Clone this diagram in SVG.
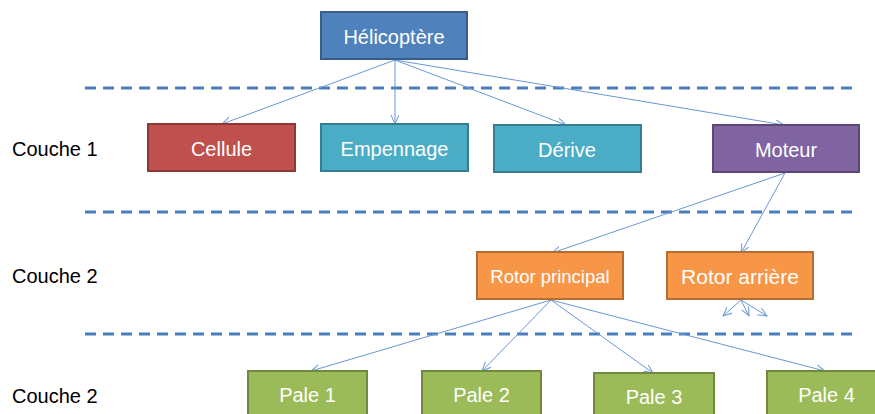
<svg xmlns="http://www.w3.org/2000/svg" width="875" height="414" viewBox="0 0 875 414">
<style>
.box{stroke-width:2}
.t{font-family:"Liberation Sans",Arial,sans-serif;font-size:20px;fill:#fff;text-anchor:middle}
.lbl{font-family:"Liberation Sans",Arial,sans-serif;font-size:20px;fill:#000}
.blue{fill:#4F81BD;stroke:#385D8A}
.red{fill:#C0504D;stroke:#8C3836}
.aqua{fill:#4BACC6;stroke:#357D91}
.purple{fill:#8064A2;stroke:#5C4776}
.orange{fill:#F79646;stroke:#B66D31}
.green{fill:#9BBB59;stroke:#71893F}
.dash{stroke:#4A7EBB;stroke-width:3;stroke-dasharray:11 7;fill:none}
.c line{stroke:#6A97D6;stroke-width:1;marker-end:url(#ah)}
</style>
<defs>
<marker id="ah" markerUnits="userSpaceOnUse" markerWidth="12" markerHeight="12" refX="9" refY="4" orient="auto">
<path d="M0,0 L9,4 L0,8" fill="none" stroke="#6A97D6" stroke-width="1"/>
</marker>
</defs>
<rect width="875" height="414" fill="#fff"/>
<g id="separators">
<line class="dash" x1="85" y1="88" x2="855" y2="88"/>
<line class="dash" x1="85" y1="212" x2="855" y2="212"/>
<line class="dash" x1="85" y1="334" x2="855" y2="334"/>
</g>
<g id="labels">
<text class="lbl" x="12" y="156">Couche 1</text>
<text class="lbl" x="12" y="283">Couche 2</text>
<text class="lbl" x="12" y="403">Couche 2</text>
</g>
<g class="c" id="connectors">
<line x1="395" y1="60" x2="222" y2="124"/>
<line x1="395" y1="60" x2="395" y2="124"/>
<line x1="395" y1="60" x2="566" y2="125"/>
<line x1="395" y1="60" x2="784" y2="125"/>
<line x1="785" y1="173" x2="552" y2="253"/>
<line x1="785" y1="173" x2="741" y2="253"/>
<line x1="551" y1="300" x2="311" y2="371"/>
<line x1="551" y1="300" x2="482" y2="371"/>
<line x1="551" y1="300" x2="653" y2="373"/>
<line x1="551" y1="300" x2="825" y2="371"/>
<line x1="741" y1="300" x2="723" y2="316"/>
<line x1="741" y1="300" x2="749" y2="316"/>
<line x1="741" y1="300" x2="767" y2="316"/>
</g>
<g id="helicoptere"><rect class="box blue" x="321" y="12" width="146" height="47"/><text class="t" x="394" y="44">Hélicoptère</text></g>
<g id="cellule"><rect class="box red" x="148" y="124" width="147" height="47"/><text class="t" x="221.5" y="156">Cellule</text></g>
<g id="empennage"><rect class="box aqua" x="321" y="124" width="147" height="47"/><text class="t" x="394.5" y="156">Empennage</text></g>
<g id="derive"><rect class="box aqua" x="494" y="125" width="147" height="47"/><text class="t" x="567" y="157">Dérive</text></g>
<g id="moteur"><rect class="box purple" x="713" y="125" width="146" height="47"/><text class="t" x="786" y="157">Moteur</text></g>
<g id="rotor-principal"><rect class="box orange" x="477" y="252" width="146" height="47"/><text class="t" x="550" y="283" style="font-size:18.5px">Rotor principal</text></g>
<g id="rotor-arriere"><rect class="box orange" x="667" y="252" width="146" height="47"/><text class="t" x="740" y="284" style="font-size:21px">Rotor arrière</text></g>
<g id="pale1"><rect class="box green" x="248" y="371" width="119" height="47"/><text class="t" x="307.5" y="402">Pale 1</text></g>
<g id="pale2"><rect class="box green" x="422" y="371" width="119" height="47"/><text class="t" x="481.5" y="402">Pale 2</text></g>
<g id="pale3"><rect class="box green" x="594" y="373" width="120" height="47"/><text class="t" x="654" y="404">Pale 3</text></g>
<g id="pale4"><rect class="box green" x="767" y="371" width="119" height="47"/><text class="t" x="826.5" y="402">Pale 4</text></g>
</svg>
